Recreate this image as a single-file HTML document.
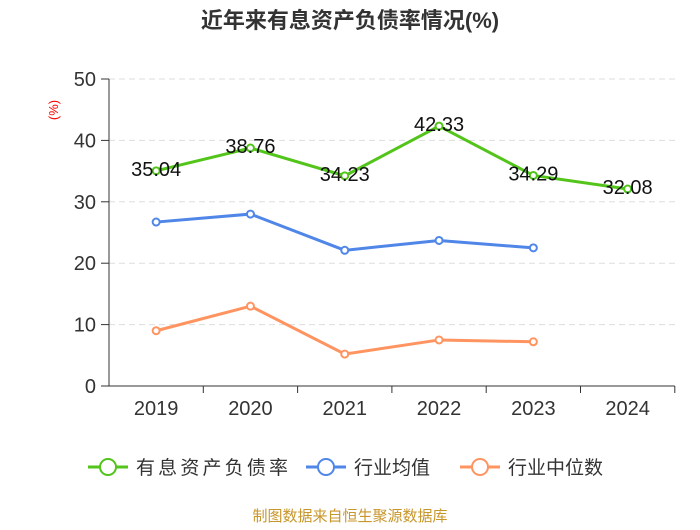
<!DOCTYPE html>
<html><head><meta charset="utf-8"><style>
body{margin:0;background:#fff;font-family:"Liberation Sans","Noto Sans CJK SC",sans-serif}
</style></head><body>
<svg width="700" height="525" xmlns="http://www.w3.org/2000/svg" font-family="Liberation Sans, Noto Sans CJK SC, sans-serif">
<text x="350" y="28" text-anchor="middle" font-size="22" font-weight="bold" fill="#333">近年来有息资产负债率情况(%)</text>
<text transform="translate(58,110) rotate(-90)" text-anchor="middle" font-size="13" fill="#f00">(%)</text>
<g id="grid"></g><g id="axes"></g><g id="series"></g>
<g font-size="19" fill="#333">
<g><line x1="88" y1="467" x2="128" y2="467" stroke="#52c41a" stroke-width="3"/><circle cx="108" cy="467" r="8" fill="#fff" stroke="#52c41a" stroke-width="2"/><text x="136" y="474" textLength="152">有息资产负债率</text></g>
<g><line x1="306" y1="467" x2="346" y2="467" stroke="#4f86e8" stroke-width="3"/><circle cx="326" cy="467" r="8" fill="#fff" stroke="#4f86e8" stroke-width="2"/><text x="354" y="474">行业均值</text></g>
<g><line x1="460" y1="467" x2="500" y2="467" stroke="#ff9460" stroke-width="3"/><circle cx="480" cy="467" r="8" fill="#fff" stroke="#ff9460" stroke-width="2"/><text x="508" y="474">行业中位数</text></g>
</g>
<text x="350" y="521" text-anchor="middle" font-size="15" fill="#c8962a">制图数据来自恒生聚源数据库</text>
</svg>
<script>
const categories=["2019","2020","2021","2022","2023","2024"];
const debtRatio=[35.04,38.76,34.23,42.33,34.29,32.08];
const industryMean=[26.7,28.0,22.1,23.7,22.5,null];
const industryMedian=[9.0,13.0,5.2,7.5,7.2,null];
const yTicks=[0,10,20,30,40,50];
const NS="http://www.w3.org/2000/svg";
const x0=109,band=94.3,yBase=386,yTop=79,yMax=50;
const X=i=>x0+band*(i+0.5);
const Y=v=>yBase-(v/yMax)*(yBase-yTop);
function mk(t,a,p){const e=document.createElementNS(NS,t);for(const k in a)e.setAttribute(k,a[k]);p.appendChild(e);return e;}
const grid=document.getElementById('grid'),axes=document.getElementById('axes'),ser=document.getElementById('series');
yTicks.forEach(v=>{
 if(v>0){const g=mk('line',{x1:x0,x2:675,y1:Y(v),y2:Y(v),stroke:'#ddd','stroke-dasharray':'6,4'},grid);
 
 }
 const t=mk('line',{x1:101,x2:x0,y1:Y(v),y2:Y(v),stroke:'#333'},axes);
 
 
 const l=mk('text',{x:96,y:Y(v)+7,'text-anchor':'end','font-size':20,fill:'#333'},axes);l.textContent=v;
 
 
});
const ya=mk('line',{x1:x0,x2:x0,y1:yTop,y2:yBase,stroke:'#333'},axes);


const xa=mk('line',{x1:x0,x2:x0+band*6,y1:yBase,y2:yBase,stroke:'#333'},axes);


categories.forEach((c,i)=>{
 mk('line',{x1:x0+band*(i+1),x2:x0+band*(i+1),y1:yBase,y2:yBase+7,stroke:'#333'},axes);
 const t=mk('text',{x:X(i),y:yBase+29,'text-anchor':'middle','font-size':20,fill:'#333'},axes);t.textContent=c;
 
 
});
function series(vals,color,name,labels){
 const pts=vals.map((v,i)=>v==null?null:[X(i),Y(v)]).filter(p=>p);
 const pl=mk('polyline',{points:pts.map(p=>p.join(',')).join(' '),fill:'none',stroke:color,'stroke-width':3},ser);
 
 
 vals.forEach((v,i)=>{if(v==null)return;
  const c=mk('circle',{cx:X(i),cy:Y(v),r:3.5,fill:'#fff',stroke:color,'stroke-width':2},ser);
  
  
  if(labels){const t=mk('text',{x:X(i),y:Y(v)+5,'text-anchor':'middle','font-size':20,fill:'#111'},ser);t.textContent=v.toFixed(2);
  
  }
 });
}
series(industryMedian,'#ff9460','industry-median',false);
series(industryMean,'#4f86e8','industry-mean',false);
series(debtRatio,'#52c41a','debt-ratio',true);
</script>
</body></html>
